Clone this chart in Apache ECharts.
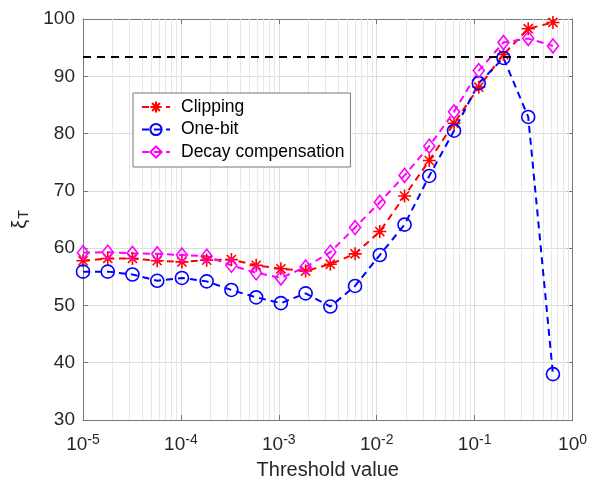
<!DOCTYPE html>
<html>
<head>
<meta charset="utf-8">
<script src="https://cdn.jsdelivr.net/npm/echarts@6/dist/echarts.min.js"></script>
<style>
  html, body { margin: 0; padding: 0; background: #fff; }
  #main { width: 590px; height: 485px; }
</style>
</head>
<body>
<div id="main"></div>
<script>
// threshold values (log-spaced, 20 points)
var thresholds = [1e-5, 1.79e-5, 3.20e-5, 5.73e-5, 1.024e-4, 1.833e-4, 3.28e-4, 5.87e-4,
  1.050e-3, 1.878e-3, 3.36e-3, 6.01e-3, 1.075e-2, 1.924e-2, 3.44e-2, 6.16e-2,
  0.1102, 0.1971, 0.3526, 0.631];
var clipping = [57.8, 58.2, 58.2, 57.8, 57.6, 57.9, 58.0, 57.0, 56.4, 56.0,
  57.2, 59.0, 62.9, 69.1, 75.3, 81.8, 88.1, 93.8, 98.3, 99.4];
var oneBit = [55.9, 55.9, 55.4, 54.3, 54.8, 54.2, 52.7, 51.4, 50.4, 52.1,
  49.8, 53.4, 58.8, 64.1, 72.6, 80.5, 88.8, 93.2, 82.9, 38.0];
var decay = [59.2, 59.3, 59.1, 59.0, 58.8, 58.6, 57.0, 55.7, 54.8, 56.7,
  59.3, 63.6, 68.0, 72.7, 77.8, 83.8, 91.0, 95.9, 96.6, 95.3];
var refLevel = 93.4;
var seriesNames = ['Clipping', 'One-bit', 'Decay compensation'];
var yMin = 30, yMax = 100;

// minor grid lines for log axis (2..9 in every decade)
var minorLines = [];
for (var e = -5; e < 0; e++) {
  for (var m = 2; m <= 9; m++) {
    var xv = m * Math.pow(10, e);
    minorLines.push([{ coord: [xv, yMin] }, { coord: [xv, yMax] }]);
  }
}

function pairs(ys) {
  return thresholds.map(function (x, i) { return [x, ys[i]]; });
}

var font = 'Liberation Sans, Arial, Helvetica, sans-serif';
var txt = '#262626';
var axisCol = '#777';
var asterisk = 'path://M0,-10L0,10M-10,0L10,0M-7,-7L7,7M-7,7L7,-7';

var myChart = echarts.init(document.getElementById('main'));
var option = {
  animation: false,
  textStyle: { fontFamily: font },
  grid: { left: 83, right: 16, top: 19, bottom: 62 },
  legend: {
    orient: 'vertical',
    left: 133,
    top: 93,
    padding: [5, 6, 6, 8],
    itemGap: 4.5,
    itemWidth: 28,
    itemHeight: 14,
    backgroundColor: '#fff',
    borderColor: axisCol,
    borderWidth: 1,
    textStyle: { fontSize: 17.5, lineHeight: 14, color: '#000', fontFamily: font, padding: [0, 0, 0, 6] },
    data: seriesNames
  },
  xAxis: [{
    type: 'log',
    logBase: 10,
    min: 1e-5,
    max: 1,
    name: 'Threshold value',
    nameLocation: 'middle',
    nameGap: 40,
    nameTextStyle: { fontSize: 20, color: txt, fontFamily: font },
    axisLine: { lineStyle: { color: axisCol } },
    axisTick: { inside: true, length: 5, lineStyle: { color: axisCol } },
    axisLabel: {
      margin: 13,
      formatter: function (v) {
        var p = Math.round(Math.log10(v));
        return '{b|10}{s|' + p + '}';
      },
      rich: {
        b: { fontSize: 19, lineHeight: 24, color: txt, fontFamily: font },
        s: { fontSize: 14, lineHeight: 13, verticalAlign: 'top', color: txt, fontFamily: font }
      }
    },
    splitLine: { show: true, lineStyle: { color: '#dcdcdc' } }
  }, {
    type: 'log',
    logBase: 10,
    min: 1e-5,
    max: 1,
    position: 'top',
    axisLine: { show: true, lineStyle: { color: axisCol } },
    axisTick: { show: true, inside: true, length: 5, lineStyle: { color: axisCol } },
    axisLabel: { show: false },
    splitLine: { show: false }
  }],
  yAxis: [{
    type: 'value',
    min: yMin,
    max: yMax,
    interval: 10,
    name: '{g|ξ}{t|T}',
    nameLocation: 'middle',
    nameRotate: 90,
    nameGap: 52,
    nameTextStyle: {
      rich: {
        g: { fontSize: 20, lineHeight: 22, color: txt, fontFamily: font },
        t: { fontSize: 14, lineHeight: 12, verticalAlign: 'bottom', color: txt, fontFamily: font, padding: [0, 0, 0, 1] }
      }
    },
    axisLine: { show: true, lineStyle: { color: axisCol } },
    axisTick: { show: true, inside: true, length: 5, lineStyle: { color: axisCol } },
    axisLabel: { fontSize: 19, margin: 8, color: txt, fontFamily: font },
    splitLine: { show: true, lineStyle: { color: '#dcdcdc' } }
  }, {
    type: 'value',
    min: yMin,
    max: yMax,
    interval: 10,
    position: 'right',
    axisLine: { show: true, lineStyle: { color: axisCol } },
    axisTick: { show: true, inside: true, length: 5, lineStyle: { color: axisCol } },
    axisLabel: { show: false },
    splitLine: { show: false }
  }],
  series: [{
    name: 'minor-grid',
    type: 'line',
    data: [],
    silent: true,
    z: 1,
    markLine: {
      silent: true,
      z: 1,
      symbol: 'none',
      label: { show: false },
      emphasis: { disabled: true },
      lineStyle: { color: '#e7e7e7', width: 1, type: 'solid' },
      data: minorLines
    }
  }, {
    name: seriesNames[0],
    type: 'line',
    data: pairs(clipping),
    z: 3,
    symbol: asterisk,
    symbolSize: 13,
    color: '#ff0000',
    lineStyle: { color: '#ff0000', width: 2, type: [7, 5] },
    itemStyle: { color: '#ff0000', borderColor: '#ff0000', borderWidth: 1.6 }
  }, {
    name: seriesNames[1],
    type: 'line',
    data: pairs(oneBit),
    z: 3,
    symbol: 'circle',
    symbolSize: 13,
    color: '#0000ff',
    lineStyle: { color: '#0000ff', width: 2, type: [7, 5] },
    itemStyle: { color: 'rgba(0,0,0,0)', borderColor: '#0000ff', borderWidth: 1.6 }
  }, {
    name: seriesNames[2],
    type: 'line',
    data: pairs(decay),
    z: 3,
    symbol: 'diamond',
    symbolSize: [11, 14],
    color: '#ff00ff',
    lineStyle: { color: '#ff00ff', width: 2, type: [7, 5] },
    itemStyle: { color: 'rgba(0,0,0,0)', borderColor: '#ff00ff', borderWidth: 1.6 },
    markLine: {
      silent: true,
      symbol: 'none',
      label: { show: false },
      lineStyle: { color: '#000', width: 2, type: [8, 6] },
      data: [{ yAxis: refLevel }]
    }
  }]
};
myChart.setOption(option);
</script>
</body>
</html>
